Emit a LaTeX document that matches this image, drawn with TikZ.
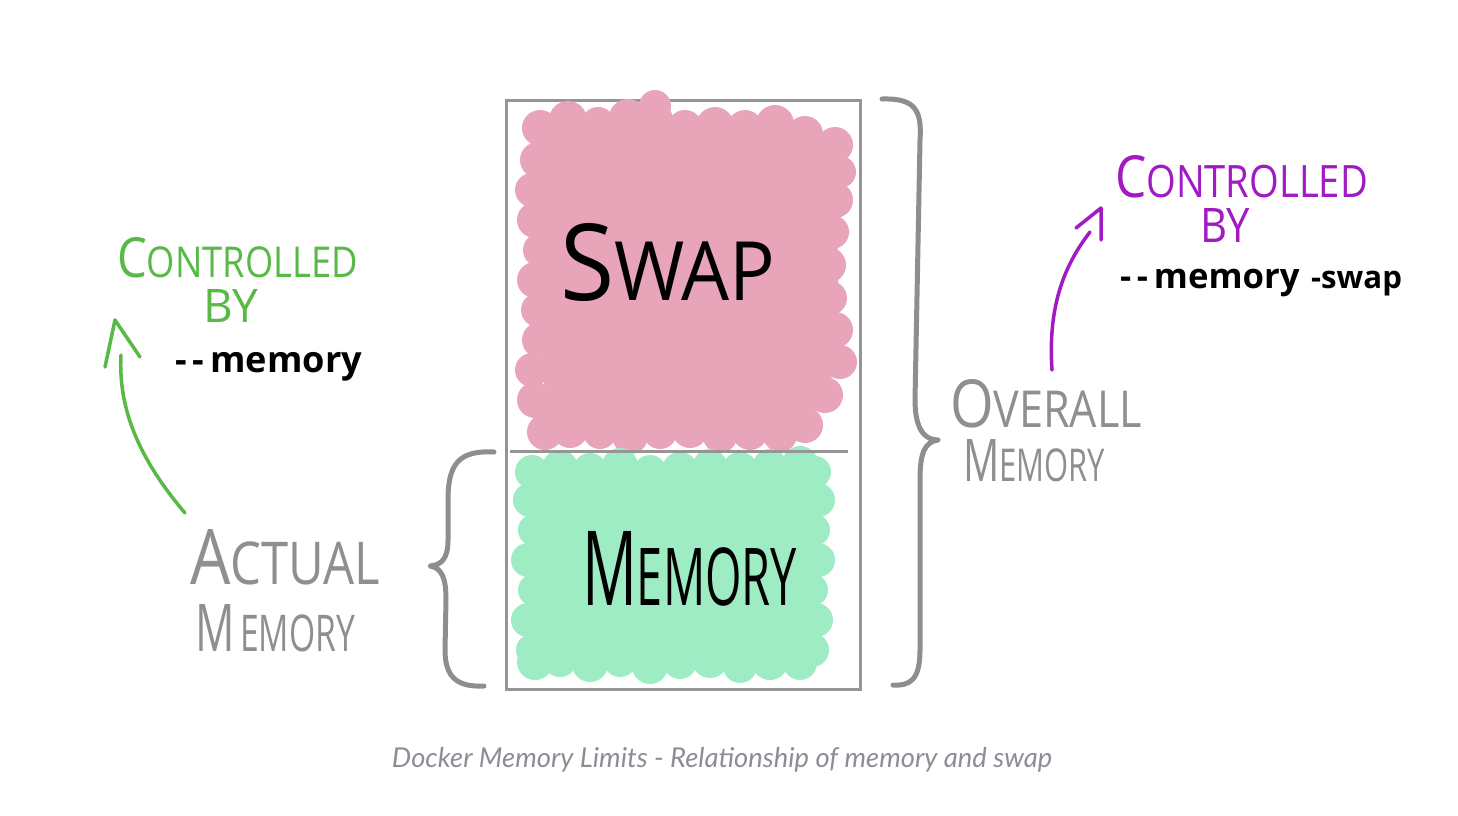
\documentclass[tikz,border=0pt]{standalone}
\usepackage{fontspec}
\usepackage{graphicx}
\setmainfont{Open Sans}
\newfontfamily\capfont{Lato}
\definecolor{pinkfill}{HTML}{E8A4B8}
\definecolor{greenfill}{HTML}{9EECC3}
\definecolor{boxgray}{HTML}{959595}
\definecolor{bracegray}{HTML}{8E8E8E}
\definecolor{labelgray}{HTML}{8F8F8F}
\definecolor{ctrlgreen}{HTML}{58B947}
\definecolor{ctrlpurple}{HTML}{A21AC4}
\definecolor{capgray}{HTML}{8D8D96}
\newcommand\fitbox[3]{\resizebox{#1pt}{#2pt}{#3}}
\newcommand\fitw[2]{\resizebox{#1pt}{!}{#2}}
\newcommand\bigsmall[2]{{\fontsize{13}{13}\selectfont #1}{\fontsize{10}{10}\selectfont #2}}
\begin{document}
\begin{tikzpicture}[x=1pt,y=-1pt,
  hand/.style={inner sep=0pt, outer sep=0pt, anchor=south west},
  flag/.style={inner sep=0pt, outer sep=0pt, anchor=base west, text=black},
  bracestroke/.style={draw=bracegray, line width=5pt, line cap=round, line join=round},
  arrowstroke/.style={line width=3.5pt, line cap=round, line join=round},
  boxline/.style={draw=boxgray, line width=3pt}]
\useasboundingbox (0,0) rectangle (1458,815);
\fill[white] (0,0) rectangle (1458,815);

% container
\node[boxline, minimum width=354pt, minimum height=589pt, inner sep=0pt, anchor=north west] (box) at (505,99) {};

% swap blob
\fill[pinkfill] (540,120) -- (835,135) -- (840,362) -- (805,425) -- (545,432) -- cycle;
\foreach \x/\y/\r in {540/128/18, 568/120/19, 598/124/17, 628/118/19, 655/106/16, 655/120/18, 685/128/18, 715/126/19, 745/128/18, 775/124/19, 805/134/18, 835/145/18,
  840/172/16, 835/200/18, 832/232/17, 828/265/18, 830/298/17, 835/330/18, 840/362/17, 825/395/18, 805/425/18,
  780/435/17, 750/432/18, 720/436/17, 690/430/18, 660/432/17, 630/436/18, 600/432/17, 570/430/18, 545/432/18,
  535/400/18, 532/370/17, 540/340/18, 538/310/17, 535/280/18, 540/250/17, 535/220/18, 532/190/17, 538/160/18}
  \fill[pinkfill] (\x,\y) circle (\r pt);
% memory blob
\fill[greenfill] (530,470) rectangle (816,663);
\foreach \x/\y/\r in {532/472/17, 560/468/18, 590/470/17, 620/466/18, 650/472/17, 680/470/18, 710/466/17, 740/470/18, 770/466/17, 800/464/18, 815/472/16,
  818/500/17, 814/530/16, 818/560/17, 812/590/16, 816/620/17, 812/650/17,
  800/663/17, 770/662/18, 740/666/17, 710/660/18, 680/662/17, 650/666/18, 620/660/17, 590/664/18, 560/660/17, 535/662/18,
  530/500/17, 534/530/16, 528/560/17, 534/590/16, 528/620/17, 532/650/16}
  \fill[greenfill] (\x,\y) circle (\r pt);

\coordinate (divL) at (510,451);
\coordinate (divR) at (848,451);
\draw[boxline] (divL) -- (divR);

% labels in blobs
\node[hand] (swap) at (560,302) {\fitbox{215}{77}{\bigsmall{S}{WAP}}};
\node[hand] (mem) at (582,606) {\fitbox{215}{74}{\bigsmall{M}{EMORY}}};

% braces
\coordinate (lbT) at (494,452);
\coordinate (lbTip) at (430,566);
\coordinate (lbB) at (484,686);
\draw[bracestroke] (lbT) .. controls (458,450) and (448,465) .. (448,500)
  -- (448,540) .. controls (448,558) and (442,565) .. (lbTip)
  .. controls (442,568) and (446,578) .. (446,600)
  -- (445,650) .. controls (445,680) and (460,687) .. (lbB);
\coordinate (rbT) at (882,99);
\coordinate (rbTip) at (938,440);
\coordinate (rbB) at (893,685);
\draw[bracestroke] (rbT) .. controls (915,98) and (922,110) .. (920,140)
  -- (915,400) .. controls (915,430) and (925,440) .. (rbTip)
  .. controls (925,442) and (920,452) .. (920,480)
  -- (920,650) .. controls (920,680) and (910,686) .. (rbB);

% left labels
\node[hand, text=labelgray] (actual) at (190,585) {\fitbox{190}{55}{\bigsmall{A}{CTUAL}}};
\node[hand, text=labelgray] (actmem) at (195,652) {\fitbox{160}{47}{\bigsmall{M}{\,EMORY}}};
\node[hand, text=ctrlgreen] (gctrl) at (117,278) {\fitbox{241}{40}{\bigsmall{C}{ONTROLLED}}};
\node[hand, text=ctrlgreen] (gby) at (203,322) {\fitbox{55}{33}{BY}};
\node[flag] (gflag) at (175,372) {\fitw{187}{\fontseries{sb}\selectfont -\,-\,memory}};

% right labels
\node[hand, text=labelgray] (overall) at (950,428) {\fitbox{192}{48}{\bigsmall{O}{VERALL}}};
\node[hand, text=labelgray] (ovmem) at (963,482) {\fitbox{142}{42}{\bigsmall{M}{EMORY}}};
\node[hand, text=ctrlpurple] (pctrl) at (1115,198) {\fitbox{253}{42}{\bigsmall{C}{ONTROLLED}}};
\node[hand, text=ctrlpurple] (pby) at (1200,242) {\fitbox{50}{34}{BY}};
\node[flag] (pflag) at (1120,288) {\fitw{282}{\fontseries{sb}\selectfont -\,-\,memory\,\,{\small -swap}}};

% arrows
\coordinate (gS) at (185,513);
\coordinate (gE) at (121,355);
\coordinate (gHL) at (105,367);
\coordinate (gHA) at (115,320);
\coordinate (gHR) at (140,357);
\draw[arrowstroke, draw=ctrlgreen] (gS) .. controls (140,460) and (118,410) .. (gE);
\draw[arrowstroke, draw=ctrlgreen] (gHL) -- (gHA) -- (gHR);
\coordinate (pS) at (1052,370);
\coordinate (pE) at (1090,232);
\coordinate (pHL) at (1076,228);
\coordinate (pHA) at (1101,208);
\coordinate (pHR) at (1101,240);
\draw[arrowstroke, draw=ctrlpurple] (pS) .. controls (1048,310) and (1062,268) .. (pE);
\draw[arrowstroke, draw=ctrlpurple] (pHL) -- (pHA) -- (pHR);

% caption
\node[inner sep=0pt, text=capgray] (caption) at (722,760) {\resizebox{660pt}{!}{\capfont\itshape Docker Memory Limits - Relationship of memory and swap}};
\end{tikzpicture}
\end{document}
